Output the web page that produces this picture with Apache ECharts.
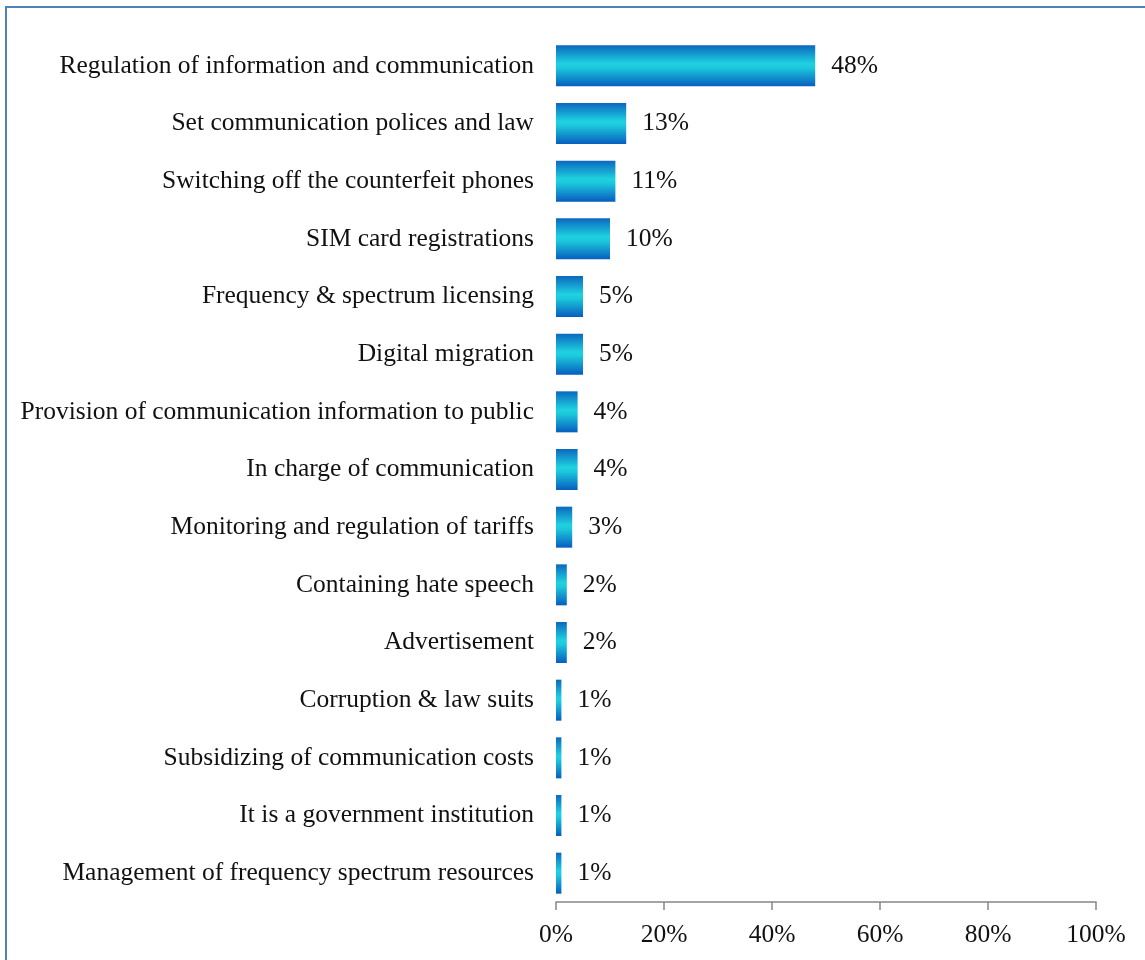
<!DOCTYPE html>
<html>
<head>
<meta charset="utf-8">
<script src="https://cdn.jsdelivr.net/npm/echarts@6/dist/echarts.min.js"></script>
<style>
  html, body { margin: 0; padding: 0; background: #fff; }
  #frame { position: absolute; left: 5px; top: 6px; width: 1200px; height: 1000px;
           border-left: 2px solid #4f81bd; border-top: 2px solid #4f81bd; box-sizing: border-box; }
  #chart { position: absolute; left: 0; top: 0; width: 1145px; height: 960px; }
</style>
</head>
<body>
<div id="frame"></div>
<div id="chart"></div>
<script>
// Roles attributed to the regulator, share of responses (%)
const categories = [
  'Regulation of information and communication',
  'Set communication polices and law',
  'Switching off the counterfeit phones',
  'SIM card registrations',
  'Frequency & spectrum licensing',
  'Digital migration',
  'Provision of communication information to public',
  'In charge of communication',
  'Monitoring and regulation of tariffs',
  'Containing hate speech',
  'Advertisement',
  'Corruption & law suits',
  'Subsidizing of communication costs',
  'It is a government institution',
  'Management of frequency spectrum resources'
];
const shares = [48, 13, 11, 10, 5, 5, 4, 4, 3, 2, 2, 1, 1, 1, 1];
const xTicks = [0, 20, 40, 60, 80, 100];

const font = '"Liberation Serif", "DejaVu Serif", serif';
const chart = echarts.init(document.getElementById('chart'));

const barFill = new echarts.graphic.LinearGradient(0, 0, 0, 1, [
  { offset: 0, color: '#0b68c0' },
  { offset: 0.45, color: '#1fd2e0' },
  { offset: 0.55, color: '#1cc8dc' },
  { offset: 1, color: '#075dbf' }
]);

chart.setOption({
  animation: false,
  grid: { left: 556, right: 49, top: 37, bottom: 58, containLabel: false },
  xAxis: {
    type: 'value', min: xTicks[0], max: xTicks[xTicks.length - 1], interval: 20,
    axisLine: { show: true, lineStyle: { color: '#868686', width: 1.5 } },
    axisTick: { show: true, length: 8, lineStyle: { color: '#868686', width: 1.5 } },
    splitLine: { show: false },
    axisLabel: { formatter: v => v + '%', color: '#111', fontFamily: font, fontSize: 25.5, margin: 20 }
  },
  yAxis: {
    type: 'category', data: categories.slice().reverse(),
    axisLine: { show: false }, axisTick: { show: false },
    axisLabel: { color: '#111', fontFamily: font, fontSize: 25.5, margin: 22, padding: [4, 0, 0, 0] }
  },
  series: [{
    type: 'bar',
    data: shares.slice().reverse(),
    barWidth: 41,
    itemStyle: { color: barFill },
    label: {
      show: true, position: 'right', distance: 16, padding: [4, 0, 0, 0],
      formatter: p => p.value + '%',
      color: '#111', fontFamily: font, fontSize: 25.5
    }
  }]
});
</script>
</body>
</html>
